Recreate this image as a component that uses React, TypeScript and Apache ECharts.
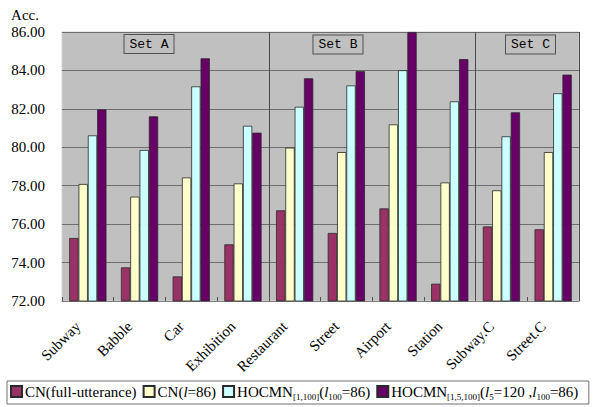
import React, { useEffect, useRef } from "react";
import * as echarts from "echarts";

// Noise conditions on the x axis
const categories = [
  "Subway",
  "Babble",
  "Car",
  "Exhibition",
  "Restaurant",
  "Street",
  "Airport",
  "Station",
  "Subway.C",
  "Street.C",
];

// Accuracy (%) per method
const cnFullUtterance = [75.28, 73.75, 73.28, 74.95, 76.72, 75.54, 76.82, 72.9, 75.88, 75.73];
const cnL86 = [78.09, 77.43, 78.43, 78.12, 79.98, 79.75, 81.19, 78.17, 77.76, 79.75];
const hocmn1_100 = [80.62, 79.86, 83.17, 81.12, 82.11, 83.22, 84.01, 82.39, 80.57, 82.81];
const hocmn1_5_100 = [81.97, 81.61, 84.63, 80.76, 83.59, 83.97, 86.0, 84.59, 81.82, 83.78];

const seriesNames = [
  "CN(full-utterance)",
  "CN(l=86)",
  "HOCMN[1,100](l100=86)",
  "HOCMN[1,5,100](l5=120,l100=86)",
];

// Rich-text legend labels with italic l and subscripts
const legendLabels: Record<string, string> = {
  [seriesNames[0]]: "{n|CN(full-utterance)}",
  [seriesNames[1]]: "{n|CN(}{i|l}{n|=86)}",
  [seriesNames[2]]: "{n|HOCMN}{s|[1,100]}{n|(}{i|l}{s|100}{n|=86)}",
  [seriesNames[3]]: "{n|HOCMN}{s|[1,5,100]}{n|(}{i|l}{s|5}{n|=120 ,}{i|l}{s|100}{n|=86)  }",
};

const seriesColors = ["#993366", "#FFFFCC", "#CCFFFF", "#660066"];

const setLabels = ["Set A", "Set B", "Set C"];

const yTicks = { min: 72, max: 86, interval: 2 };

const FONT = "Liberation Serif";
const FONT_SET = "Liberation Mono";

export default function App() {
  const ref = useRef<HTMLDivElement>(null);

  useEffect(() => {
    if (!ref.current) return;
    const chart = echarts.init(ref.current, undefined, { renderer: "svg" });
    const values = [cnFullUtterance, cnL86, hocmn1_100, hocmn1_5_100];

    const setBoxCenters = [
      [149, 44],
      [338, 44.5],
      [530.5, 44.5],
    ];

    chart.setOption({
      animation: false,
      backgroundColor: "#ffffff",
      textStyle: { fontFamily: FONT },
      grid: {
        left: 62,
        top: 32,
        right: 16,
        bottom: 106,
        show: true,
        backgroundColor: "#c0c0c0",
        borderColor: "#d4d4d4",
        borderWidth: 1,
      },
      xAxis: {
        type: "category",
        data: categories,
        boundaryGap: true,
        axisLine: { show: true, lineStyle: { color: "#808080", width: 1 } },
        axisTick: { show: true, inside: true, length: 4, lineStyle: { color: "#505050" } },
        axisLabel: {
          rotate: 45,
          margin: 13,
          padding: [0, 14, 0, 0],
          color: "#000",
          fontSize: 15,
          fontFamily: FONT,
          interval: 0,
        },
        splitLine: {
          show: true,
          interval: (index: number) => index === 4 || index === 8,
          lineStyle: { color: "#484848", width: 1 },
        },
      },
      yAxis: {
        type: "value",
        min: yTicks.min,
        max: yTicks.max,
        interval: yTicks.interval,
        name: "Acc.",
        nameLocation: "end",
        nameGap: 10,
        nameTextStyle: {
          color: "#000",
          fontSize: 15,
          fontFamily: FONT,
          align: "right",
          padding: [0, 23, 0, 0],
        },
        axisLine: { show: false },
        axisTick: { show: false },
        axisLabel: {
          color: "#000",
          fontSize: 15,
          fontFamily: FONT,
          margin: 17,
          formatter: (v: number) => v.toFixed(2),
        },
        splitLine: { show: true, lineStyle: { color: "#6e6e6e", width: 1 } },
      },
      legend: {
        left: 7,
        top: 381,
        orient: "horizontal",
        padding: [3, 3, 3, 3],
        itemGap: 6,
        itemWidth: 11,
        itemHeight: 11,
        borderColor: "#707070",
        borderWidth: 1,
        icon: "rect",
        formatter: (name: string) => legendLabels[name] ?? name,
        textStyle: {
          fontFamily: FONT,
          fontSize: 15,
          padding: [0, 0, 0, -2],
          rich: {
            n: { fontSize: 15, fontFamily: FONT, color: "#000", lineHeight: 19 },
            i: { fontSize: 15, fontFamily: FONT, fontStyle: "italic", color: "#000", lineHeight: 19 },
            s: {
              fontSize: 9,
              fontFamily: FONT,
              color: "#000",
              verticalAlign: "bottom",
              lineHeight: 11,
            },
          },
        },
      },
      series: seriesNames.map((name, k) => ({
        name,
        type: "bar",
        data: values[k],
        barGap: "0%",
        barCategoryGap: "28%",
        itemStyle: {
          color: seriesColors[k],
          borderColor: "#2a2a2a",
          borderWidth: 0.8,
        },
      })),
      graphic: setLabels.map((t, k) => ({
        type: "text",
        x: setBoxCenters[k][0],
        y: setBoxCenters[k][1],
        z: 100,
        style: {
          text: t,
          fontSize: 13,
          fontFamily: FONT_SET,
          fill: "#000",
          align: "center",
          verticalAlign: "middle",
          backgroundColor: "#c0c0c0",
          borderColor: "#505050",
          borderWidth: 1,
          padding: [3, 5, 2, 5],
        },
      })),
    });

    return () => chart.dispose();
  }, []);

  return (
    <div
      ref={ref}
      style={{ position: "absolute", left: 0, top: 0, width: 595, height: 407 }}
    />
  );
}
